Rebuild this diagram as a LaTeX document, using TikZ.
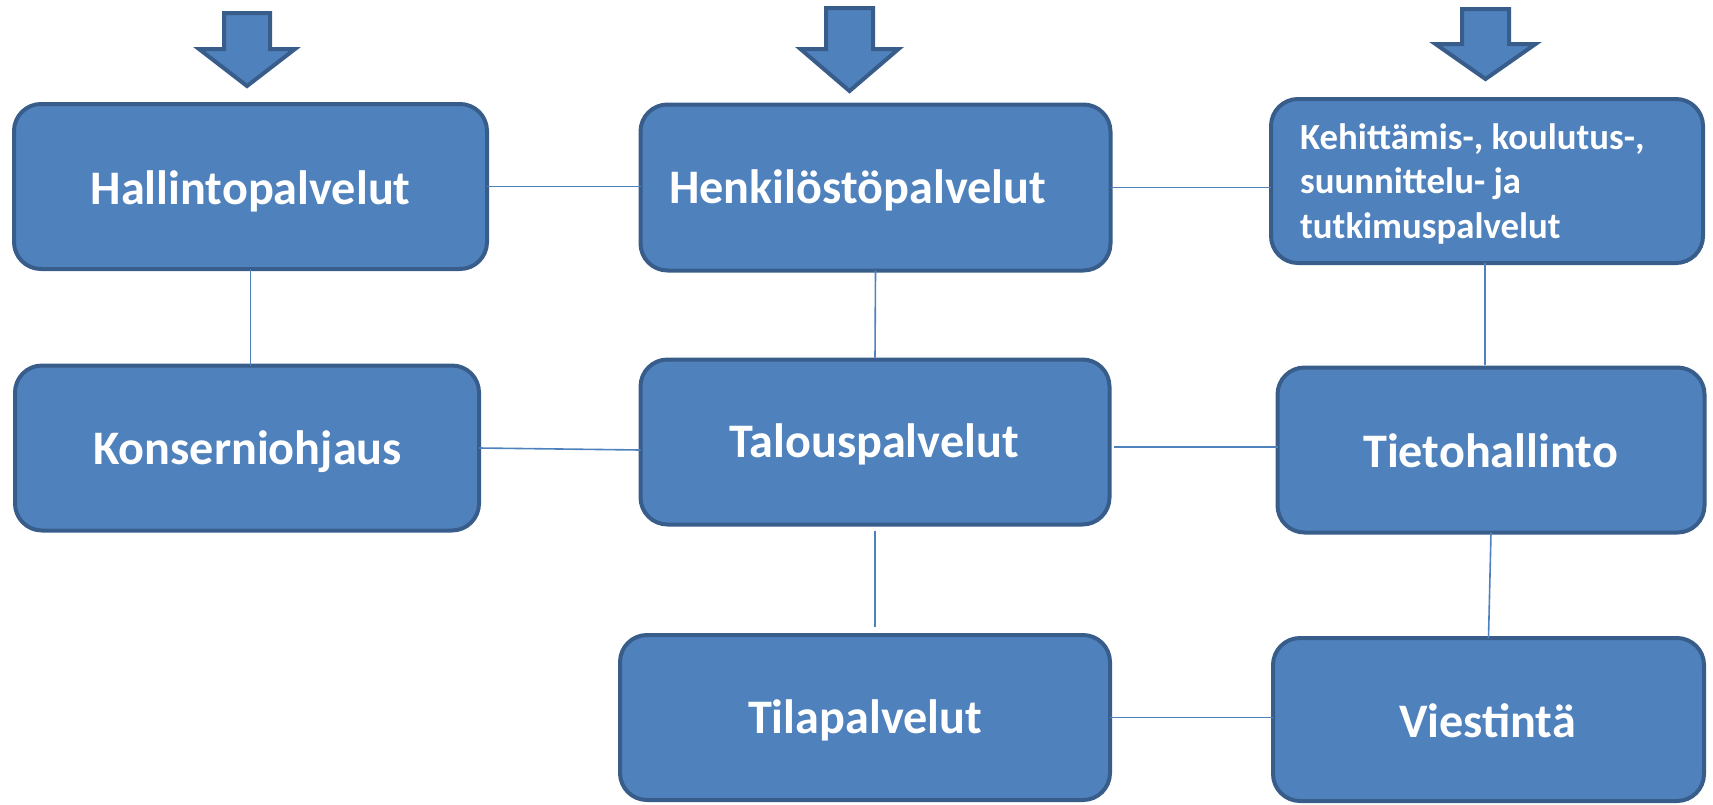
\documentclass[tikz,border=0pt]{standalone}
\usepackage{fontspec}
\setmainfont{Carlito}
\usetikzlibrary{calc}
\definecolor{boxfill}{HTML}{4F81BD}
\definecolor{boxline}{HTML}{385D8A}
\definecolor{conn}{HTML}{4F81BD}
\tikzset{
  box/.style={draw=boxline, fill=boxfill, line width=4pt, rounded corners=27pt,
    inner sep=0pt, outer sep=0pt},
  lbl/.style={text=white, font=\bfseries\fontsize{48.2}{58}\selectfont, inner sep=0pt, anchor=base},
  smalllbl/.style={text=white, font=\bfseries\fontsize{36.8}{44}\selectfont, inner sep=0pt, anchor=base west},
  conline/.style={draw=conn, line width=1.6pt},
  downarr/.style={draw=boxline, fill=boxfill, line width=4pt, miter limit=10}
}
\begin{document}
\begin{tikzpicture}[x=1pt,y=-1pt]
\useasboundingbox (0,0) rectangle (1713,804);
% boxes
\node[box, minimum width=473pt, minimum height=165pt] (hal) at (250.5,186.5) {};
\node[box, minimum width=470pt, minimum height=166pt] (hen) at (875.5,187.5) {};
\node[box, minimum width=432pt, minimum height=164pt] (keh) at (1487,181) {};
\node[box, minimum width=464pt, minimum height=165pt] (kon) at (247,448) {};
\node[box, minimum width=469pt, minimum height=165pt] (tal) at (875,442) {};
\node[box, minimum width=427pt, minimum height=165pt] (tie) at (1491,450) {};
\node[box, minimum width=490pt, minimum height=165pt] (til) at (865,717.5) {};
\node[box, minimum width=431pt, minimum height=163pt] (vie) at (1488.5,719.5) {};
% labels
\node[lbl] (thal) at (250.5,204) {Hallintopalvelut};
\node[lbl, anchor=base west] (then) at (669,203) {Henkilöstöpalvelut};
\node[smalllbl] (tkeh1) at (1300,149) {Kehittämis-, koulutus-,};
\node[smalllbl] (tkeh2) at (1300,193) {suunnittelu- ja};
\node[smalllbl] (tkeh3) at (1300,238) {tutkimuspalvelut};
\node[lbl] (tkon) at (247.5,464) {Konserniohjaus};
\node[lbl] (ttal) at (874,457) {Talouspalvelut};
\node[lbl] (ttie) at (1490.5,467) {Tietohallinto};
\node[lbl] (ttil) at (865,733) {Tilapalvelut};
\node[lbl] (tvie) at (1487.5,737) {Viestintä};
% connectors
\draw[conline] (hal.east) -- (hal.east -| hen.west);
\draw[conline] (hen.east) -- (hen.east -| keh.west);
\draw[conline] (hal.south) -- (hal.south |- kon.north);
\draw[conline] (hen.south) -- ($(tal.north)+(0,-2)$);
\draw[conline] ($(keh.south)+(-2,0)$) -- ($(keh.south |- tie.north)+(-2,-3)$);
\draw[conline] (kon.east) -- ($(tal.west)+(0,8)$);
\draw[conline] ($(tal.east)+(4,5)$) -- ($(tal.east -| tie.west)+(0,5)$);
\draw[conline] ($(tal.south)+(0,6)$) -- ($(tal.south |- til.north)+(0,-8)$);
\draw[conline] (tie.south) -- (vie.north);
\draw[conline] (til.east) -- (til.east -| vie.west);
% arrows
\foreach \cx/\ty/\sy/\tipy/\sw/\ww in {247/13/49/86/23/48, 849.5/8/49/91/23.5/49, 1485.5/9/44/79/23.5/50}{
  \draw[downarr] (\cx-\sw,\ty) -- (\cx+\sw,\ty) -- (\cx+\sw,\sy) -- (\cx+\ww,\sy)
    -- (\cx,\tipy) -- (\cx-\ww,\sy) -- (\cx-\sw,\sy) -- cycle;
}
\end{tikzpicture}
\end{document}
